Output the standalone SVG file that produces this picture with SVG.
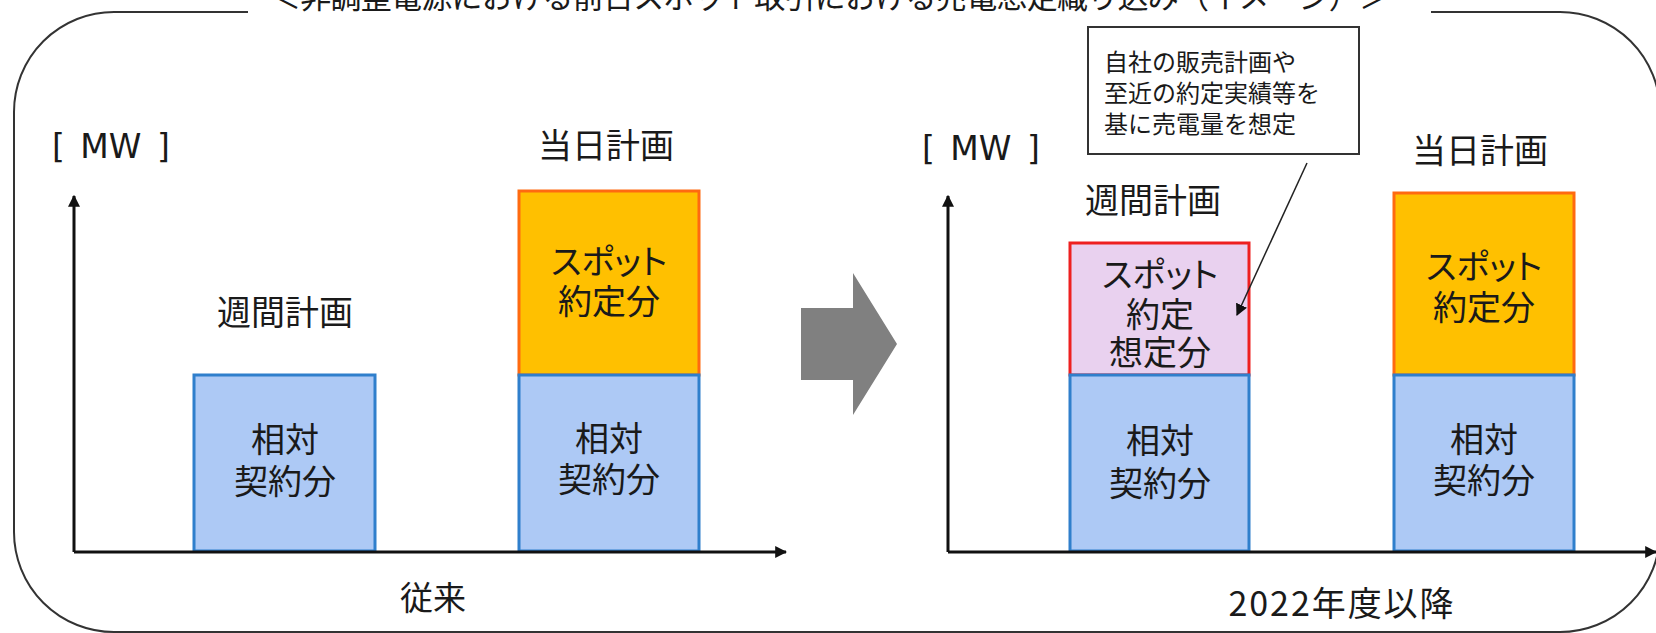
<svg xmlns="http://www.w3.org/2000/svg" width="1656" height="633" viewBox="0 0 1656 633">
<defs>
<style>
.t{font-family:"Noto Sans CJK JP","Noto Sans",sans-serif;fill:#1a1a1a;text-anchor:middle;dominant-baseline:central}
.lbl{font-size:34px}
.sp{font-feature-settings:"palt" 1}
.mw{font-family:"DejaVu Sans","Noto Sans",sans-serif;font-size:33px;fill:#1a1a1a;dominant-baseline:central;word-spacing:5px}
.blue{fill:#ADC9F5;stroke:#2F7FCC;stroke-width:3}
.orange{fill:#FFC000;stroke:#FF6A10;stroke-width:3}
.pink{fill:#E9D1EF;stroke:#EE2020;stroke-width:3}
.axis{stroke:#111;stroke-width:3;fill:none}
</style>
<marker id="ah" viewBox="0 0 10 10" refX="9" refY="5" markerWidth="4" markerHeight="4" orient="auto" markerUnits="strokeWidth">
<path d="M0,0 L10,5 L0,10 z" fill="#111"/>
</marker>
<marker id="ah2" viewBox="0 0 10 10" refX="9" refY="5" markerWidth="8" markerHeight="8" orient="auto" markerUnits="strokeWidth">
<path d="M0,0 L10,5 L0,10 z" fill="#111"/>
</marker>
</defs>
<rect width="1656" height="633" fill="#fff"/>
<g id="frame">
<path d="M248,12 L114,12 A100,100 0 0 0 14,112 L14,532 A100,100 0 0 0 114,632 L1560,632 A100,100 0 0 0 1660,532 L1660,112 A100,100 0 0 0 1560,12 L1431,12" fill="none" stroke="#333" stroke-width="2"/>
<text class="t" x="830" y="-6" font-size="31" textLength="1120" lengthAdjust="spacing">＜非調整電源における前日スポット取引における売電想定織り込み（イメージ）＞</text>
</g>
<g id="transition-arrow">
<polygon points="801,308 853,308 853,273 897,344 853,415 853,380 801,380" fill="#808080"/>
</g>
<g id="left-chart">
<text class="mw" x="52" y="146">[ MW ]</text>
<text class="t lbl" x="285" y="310">週間計画</text>
<text class="t lbl" x="606" y="143">当日計画</text>
<text class="t" x="433" y="596" font-size="33">従来</text>
</g>
<g id="left-weekly-contract">
<rect class="blue" x="194" y="375" width="181" height="176"/>
<text class="t lbl" x="285" y="437">相対</text>
<text class="t lbl" x="285" y="479">契約分</text>
</g>
<g id="left-day-spot">
<rect class="orange" x="519" y="191" width="180" height="184"/>
<text class="t lbl sp" x="609" y="259">スポット</text>
<text class="t lbl" x="609" y="299">約定分</text>
</g>
<g id="left-day-contract">
<rect class="blue" x="519" y="375" width="180" height="176"/>
<text class="t lbl" x="609" y="436">相対</text>
<text class="t lbl" x="609" y="477">契約分</text>
</g>
<g id="right-chart">
<text class="mw" x="922" y="148">[ MW ]</text>
<text class="t lbl" x="1153" y="198">週間計画</text>
<text class="t lbl" x="1480" y="148">当日計画</text>
<text class="t lbl" x="1341" y="601" textLength="225">2022年度以降</text>
</g>
<g id="callout">
<rect x="1088" y="27" width="271" height="127" fill="#fff" stroke="#333" stroke-width="2"/>
<text class="t" x="1104" y="60" font-size="24" style="text-anchor:start">自社の販売計画や</text>
<text class="t" x="1104" y="91" font-size="24" style="text-anchor:start">至近の約定実績等を</text>
<text class="t" x="1104" y="122" font-size="24" style="text-anchor:start">基に売電量を想定</text>
</g>
<g id="right-weekly-spot">
<rect class="pink" x="1070" y="243" width="179" height="132"/>
<text class="t lbl sp" x="1160" y="272">スポット</text>
<text class="t lbl" x="1160" y="312">約定</text>
<text class="t lbl" x="1160" y="350">想定分</text>
</g>
<g id="right-weekly-contract">
<rect class="blue" x="1070" y="375" width="179" height="176"/>
<text class="t lbl" x="1160" y="438">相対</text>
<text class="t lbl" x="1160" y="481">契約分</text>
</g>
<g id="right-day-spot">
<rect class="orange" x="1394" y="193" width="180" height="182"/>
<text class="t lbl sp" x="1484" y="264">スポット</text>
<text class="t lbl" x="1484" y="305">約定分</text>
</g>
<g id="right-day-contract">
<rect class="blue" x="1394" y="375" width="180" height="176"/>
<text class="t lbl" x="1484" y="437">相対</text>
<text class="t lbl" x="1484" y="478">契約分</text>
</g>
<g id="connectors">
<line class="axis" x1="74" y1="552" x2="74" y2="196" marker-end="url(#ah)"/>
<line class="axis" x1="74" y1="552" x2="786" y2="552" marker-end="url(#ah)"/>
<line class="axis" x1="948" y1="552" x2="948" y2="196" marker-end="url(#ah)"/>
<line class="axis" x1="948" y1="552" x2="1656" y2="552" marker-end="url(#ah)"/>
<line x1="1307" y1="163" x2="1237" y2="315" stroke="#222" stroke-width="1.5" marker-end="url(#ah2)"/>
</g>
</svg>
